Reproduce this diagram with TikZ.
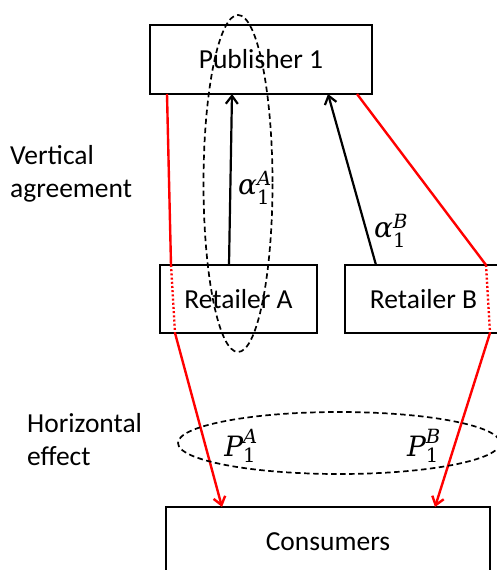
\documentclass[tikz,border=0pt]{standalone}
\usepackage{amsmath}
\usepackage{fontspec}
\setmainfont{Carlito}
\newfontfamily\symfont{DejaVu Serif}
\newcommand{\sv}[1]{\text{\symfont\itshape #1}}
\newcommand{\sn}[1]{\text{\symfont #1}}
\usetikzlibrary{arrows.meta}
\begin{document}
\begin{tikzpicture}[x=1pt,y=-1pt,
  box/.style={draw=black,line width=2.4pt,minimum width=#1,inner sep=0pt,
              font=\fontsize{27.5}{32}\selectfont},
  lbl/.style={font=\fontsize{27.5}{33}\selectfont,align=left,anchor=west,inner sep=0pt},
  sym/.style={font=\fontsize{28}{32}\selectfont,inner sep=0pt},
  bid/.style={line width=2.2pt,-{Straight Barb[length=8pt,width=12pt,line width=2.2pt]}},
  redln/.style={red,line width=2.4pt},
  redtip/.style={red,line width=2.4pt,-{Straight Barb[length=8pt,width=12pt,line width=2.4pt]}},
  reddot/.style={red,line width=2.4pt,dash pattern=on 2pt off 2.2pt},
  ring/.style={draw,line width=1.7pt,dash pattern=on 5.5pt off 3.5pt}]
\useasboundingbox (0,0) rectangle (497,570);

% boxes
\node[box=222pt,minimum height=69pt] (pub) at (261,59.5) {Publisher 1};
\node[box=157pt,minimum height=68pt] (ra) at (238.5,299) {Retailer A};
\node[box=157pt,minimum height=68pt] (rb) at (423.5,299) {Retailer B};
\node[box=324pt,minimum height=70pt] (con) at (328,542) {Consumers};

% side captions
\node[lbl] (vert) at (10,174) {Vertical\\agreement};
\node[lbl] (horz) at (27,440) {Horizontal\\effect};

% attachment points on the box borders
\coordinate (pA) at (167,94);
\coordinate (raT) at (171,265);
\coordinate (raB) at (175,333);
\coordinate (cA) at (222,507);
\coordinate (pB) at (357,94);
\coordinate (rbT) at (486,265);
\coordinate (rbB) at (490,333);
\coordinate (cB) at (435,507);
\coordinate (aA0) at (229,265);
\coordinate (aA1) at (232,94);
\coordinate (aB0) at (376,265);
\coordinate (aB1) at (328,94);

% bids from retailers to publisher
\draw[bid] (aA0) -- (aA1);
\draw[bid] (aB0) -- (aB1);
\node[sym] (alA) at (255,188) {$\sv{α}_{\sn{1}}^{\sv{A}}$};
\node[sym] (alB) at (391,231) {$\sv{α}_{\sn{1}}^{\sv{B}}$};

% price paths through the retailers to consumers
\draw[redln] (pA) -- (raT);
\draw[reddot] (raT) -- (raB);
\draw[redtip] (raB) -- (cA);
\draw[redln] (pB) -- (rbT);
\draw[reddot] (rbT) -- (rbB);
\draw[redtip] (rbB) -- (cB);

% grouping rings
\draw[ring] (238,183.5) ellipse [x radius=34.5, y radius=168.5];
\draw[ring] (339,443) ellipse [x radius=161, y radius=31];

\node[sym] (pA1) at (241,446) {$\sv{P}_{\sn{1}}^{\sv{A}}$};
\node[sym] (pB1) at (424,446) {$\sv{P}_{\sn{1}}^{\sv{B}}$};
\end{tikzpicture}
\end{document}
